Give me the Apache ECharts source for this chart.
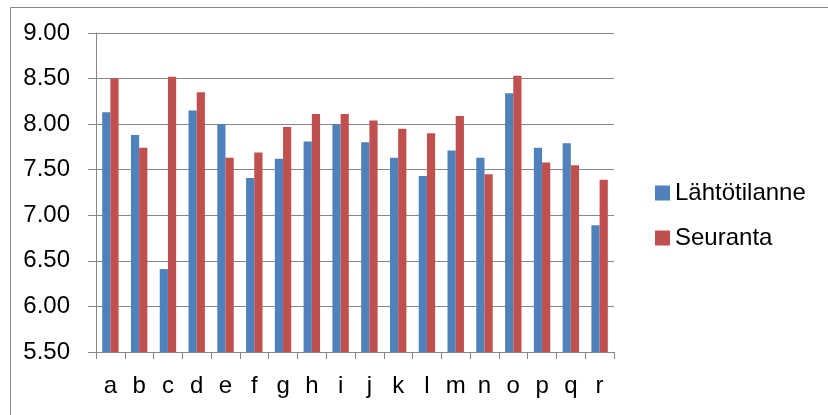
<!DOCTYPE html>
<html>
<head>
<meta charset="utf-8">
<script src="https://cdn.jsdelivr.net/npm/echarts@6/dist/echarts.min.js"></script>
<style>html,body{margin:0;padding:0;background:#fff}#c{width:828px;height:415px}</style>
</head>
<body>
<div id="c"></div>
<script>
const categories = ['a','b','c','d','e','f','g','h','i','j','k','l','m','n','o','p','q','r'];
const seriesNames = ['Lähtötilanne','Seuranta'];
const lahtotilanne = [8.13,7.88,6.41,8.15,8.00,7.41,7.62,7.81,8.00,7.80,7.63,7.43,7.71,7.63,8.34,7.74,7.79,6.89];
const seuranta     = [8.50,7.74,8.52,8.35,7.63,7.69,7.97,8.11,8.11,8.04,7.95,7.90,8.09,7.45,8.53,7.58,7.55,7.39];
const yTicks = {min:5.5, max:9.0, interval:0.5};

const chart = echarts.init(document.getElementById('c'), null, {renderer:'canvas'});
const font = 'Liberation Sans';
chart.setOption({
  animation:false,
  color:['#4F81BD','#C0504D'],
  graphic:[{type:'rect',left:8,top:5,shape:{x:0,y:0,width:900,height:500},style:{fill:'none',stroke:'#898989',lineWidth:1},silent:true,z:-1}],
  grid:{left:96,top:33,right:214,bottom:63,containLabel:false},
  xAxis:{
    type:'category',data:categories,
    axisLine:{lineStyle:{color:'#868686',width:1}},
    axisTick:{show:true,length:7,lineStyle:{color:'#868686'}},
    axisLabel:{color:'#000',fontFamily:font,fontSize:24,margin:22}
  },
  yAxis:{
    type:'value',min:yTicks.min,max:yTicks.max,interval:yTicks.interval,
    axisLine:{show:true,lineStyle:{color:'#868686',width:1}},
    axisTick:{show:true,length:8,lineStyle:{color:'#868686'}},
    splitLine:{show:true,lineStyle:{color:'#868686',width:1}},
    axisLabel:{color:'#000',fontFamily:font,fontSize:24,margin:26,formatter:v=>v.toFixed(2)}
  },
  legend:{
    orient:'vertical',left:650,top:176,
    itemWidth:15,itemHeight:15,itemGap:21,
    icon:'rect',
    textStyle:{color:'#000',fontFamily:font,fontSize:24,lineHeight:24,padding:[0,0,0,0]},
    data:seriesNames
  },
  series:[
    {name:seriesNames[0],type:'bar',data:lahtotilanne,barGap:'0%',barCategoryGap:'43%',
     itemStyle:{color:'#4F81BD',borderColor:'#b8cce4',borderWidth:0}},
    {name:seriesNames[1],type:'bar',data:seuranta,barGap:'0%',barCategoryGap:'43%',
     itemStyle:{color:'#C0504D',borderWidth:0}}
  ]
});
</script>
</body>
</html>
